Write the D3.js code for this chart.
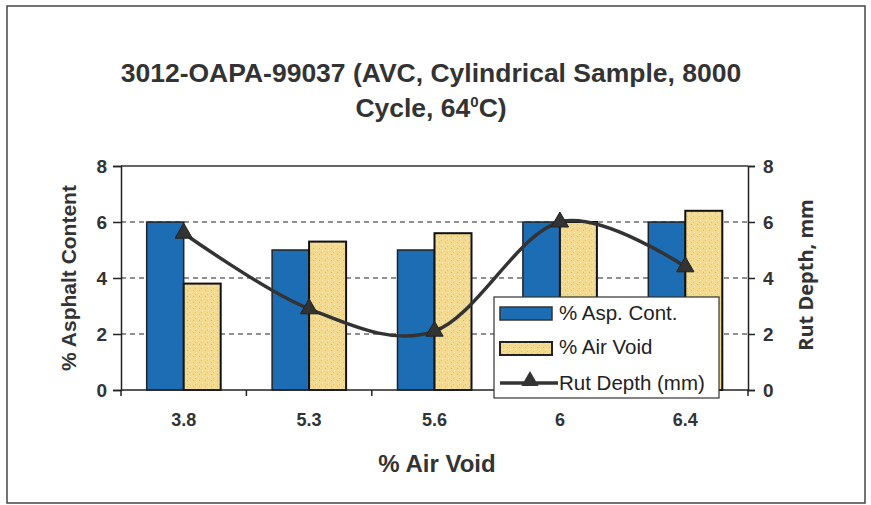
<!DOCTYPE html>
<html><head><meta charset="utf-8">
<script src="https://cdn.jsdelivr.net/npm/d3@7"></script>
<style>body{margin:0;background:#fff}svg{display:block}</style>
</head><body><svg id="c" width="871" height="505"></svg>
<script>
const categories = ["3.8","5.3","5.6","6","6.4"];
const aspContent = [6,5,5,6,6];
const airVoid = [3.8,5.3,5.6,6,6.4];
const rutDepth = [5.6,2.9,2.1,6.0,4.4];
const yTicks = [0,2,4,6,8];
const seriesNames = ["% Asp. Cont.","% Air Void","Rut Depth (mm)"];

const svg = d3.select("#c");
const m = {l:121, r:748, t:166, b:390};
const font = "'Liberation Sans', Arial, sans-serif";

svg.append("rect").attr("x",7).attr("y",6).attr("width",858).attr("height",497)
  .attr("fill","#fff").attr("stroke","#444").attr("stroke-width",1.5);

const defs = svg.append("defs");
const pat = defs.append("pattern").attr("id","speck").attr("patternUnits","userSpaceOnUse").attr("width",6).attr("height",6);
pat.append("rect").attr("width",6).attr("height",6).attr("fill","#f4da8e");
pat.append("rect").attr("x",1).attr("y",2).attr("width",1).attr("height",1).attr("fill","#e8b070");
pat.append("rect").attr("x",4).attr("y",4).attr("width",1).attr("height",1).attr("fill","#fbeec0");
pat.append("rect").attr("x",3).attr("y",0).attr("width",1).attr("height",1).attr("fill","#e7c07a");

const x = d3.scaleBand().domain(categories).range([m.l,m.r]).paddingInner(0).paddingOuter(0);
const barW = 37;
const y = d3.scaleLinear().domain([0,8]).range([m.b,m.t]);
const y2 = d3.scaleLinear().domain([0,8]).range([m.b,m.t]);

// gridlines
svg.append("g").selectAll("line").data(yTicks.filter(d=>d>0&&d<8)).join("line")
  .attr("x1",m.l).attr("x2",m.r).attr("y1",d=>y(d)).attr("y2",d=>y(d))
  .attr("stroke","#222").attr("stroke-width",1.2).attr("stroke-dasharray","5,4");
svg.append("line").attr("x1",m.l).attr("x2",m.r).attr("y1",y(8)).attr("y2",y(8)).attr("stroke","#333").attr("stroke-width",1.5);

// bars
const g = svg.append("g");
categories.forEach((c,i)=>{
  const cx = x(c)+x.bandwidth()/2;
  g.append("rect").attr("x",cx-barW).attr("y",y(aspContent[i])).attr("width",barW).attr("height",y(0)-y(aspContent[i]))
    .attr("fill","#1c6db3").attr("stroke","#222").attr("stroke-width",1.5);
  g.append("rect").attr("x",cx).attr("y",y(airVoid[i])).attr("width",barW).attr("height",y(0)-y(airVoid[i]))
    .attr("fill","url(#speck)").attr("stroke","#111").attr("stroke-width",2);
});

// axes
const axL = svg.append("g").attr("transform",`translate(${m.l},0)`)
  .call(d3.axisLeft(y).tickValues(yTicks).tickSize(8).tickPadding(6).tickFormat(d3.format("d")));
const axR = svg.append("g").attr("transform",`translate(${m.r},0)`)
  .call(d3.axisRight(y2).tickValues(yTicks).tickSize(7).tickPadding(8).tickFormat(d3.format("d")));
const axB = svg.append("g").attr("transform",`translate(0,${m.b})`)
  .call(d3.axisBottom(x).tickSize(0).tickPadding(23));
svg.append("g").selectAll("line").data(d3.range(categories.length+1)).join("line")
  .attr("x1",i=>m.l+i*x.step()).attr("x2",i=>m.l+i*x.step()).attr("y1",m.b).attr("y2",m.b+6)
  .attr("stroke","#222").attr("stroke-width",1.5);
[axL,axR,axB].forEach(a=>{
  a.select(".domain").attr("stroke","#222").attr("stroke-width",1.5);
  a.selectAll(".tick line").attr("stroke","#222").attr("stroke-width",1.5);
  a.selectAll("text").attr("font-family",font).attr("font-weight","bold").attr("font-size",19).attr("fill","#333");
});
axB.selectAll("text").attr("font-size",18);
axB.select(".domain").attr("d",`M${m.l},0H${m.r}`);

// line
const line = d3.line().x((d,i)=>x(categories[i])+x.bandwidth()/2).y(d=>y2(d)).curve(d3.curveCatmullRom.alpha(0));
svg.append("path").datum(rutDepth).attr("d",line).attr("fill","none").attr("stroke","#333").attr("stroke-width",3.5);
const tri = d3.symbol().type(d3.symbolTriangle).size(130);
svg.append("g").selectAll("path").data(rutDepth).join("path")
  .attr("transform",(d,i)=>`translate(${x(categories[i])+x.bandwidth()/2},${y2(d)})`)
  .attr("d",tri).attr("fill","#333").attr("stroke","#222");

// legend
const lg = svg.append("g").attr("transform","translate(494,297)");
lg.append("rect").attr("width",225).attr("height",101).attr("fill","#fff").attr("stroke","#333").attr("stroke-width",1.2);
lg.append("rect").attr("x",6).attr("y",10).attr("width",52).attr("height",13).attr("fill","#1c6db3").attr("stroke","#333").attr("stroke-width",1.5);
lg.append("rect").attr("x",6).attr("y",45).attr("width",52).attr("height",13).attr("fill","url(#speck)").attr("stroke","#222").attr("stroke-width",2);
lg.append("line").attr("x1",6).attr("x2",64).attr("y1",86).attr("y2",86).attr("stroke","#333").attr("stroke-width",3.5);
lg.append("path").attr("transform","translate(36,84)").attr("d",tri).attr("fill","#333");
const rowY = [23,57,93];
seriesNames.forEach((s,i)=>{
  lg.append("text").attr("x",65).attr("y",rowY[i]).text(s)
    .attr("font-family",font).attr("font-size",20.5).attr("fill","#222");
});

// titles
const title = svg.append("text").attr("text-anchor","middle").attr("font-family",font).attr("font-weight","bold")
  .attr("font-size",26.5).attr("fill","#333");
title.append("tspan").attr("x",431).attr("y",82).text("3012-OAPA-99037 (AVC, Cylindrical Sample, 8000");
const t2 = title.append("tspan").attr("x",431).attr("y",117);
t2.append("tspan").text("Cycle, 64");
t2.append("tspan").attr("dy",-10).attr("font-size",15).text("0");
t2.append("tspan").attr("dy",10).text("C)");

svg.append("text").attr("x",437).attr("y",472).attr("text-anchor","middle").attr("font-family",font)
  .attr("font-weight","bold").attr("font-size",24).attr("fill","#333").text("% Air Void");
svg.append("text").attr("transform",`translate(76,${(m.t+m.b)/2}) rotate(-90)`).attr("text-anchor","middle")
  .attr("font-family",font).attr("font-weight","bold").attr("font-size",21).attr("fill","#333").text("% Asphalt Content");
svg.append("text").attr("transform",`translate(813,275) rotate(-90)`).attr("text-anchor","middle")
  .attr("font-family","'Open Sans', sans-serif").attr("font-weight","bold").attr("font-size",20).attr("fill","#333").text("Rut Depth, mm");
</script></body></html>
